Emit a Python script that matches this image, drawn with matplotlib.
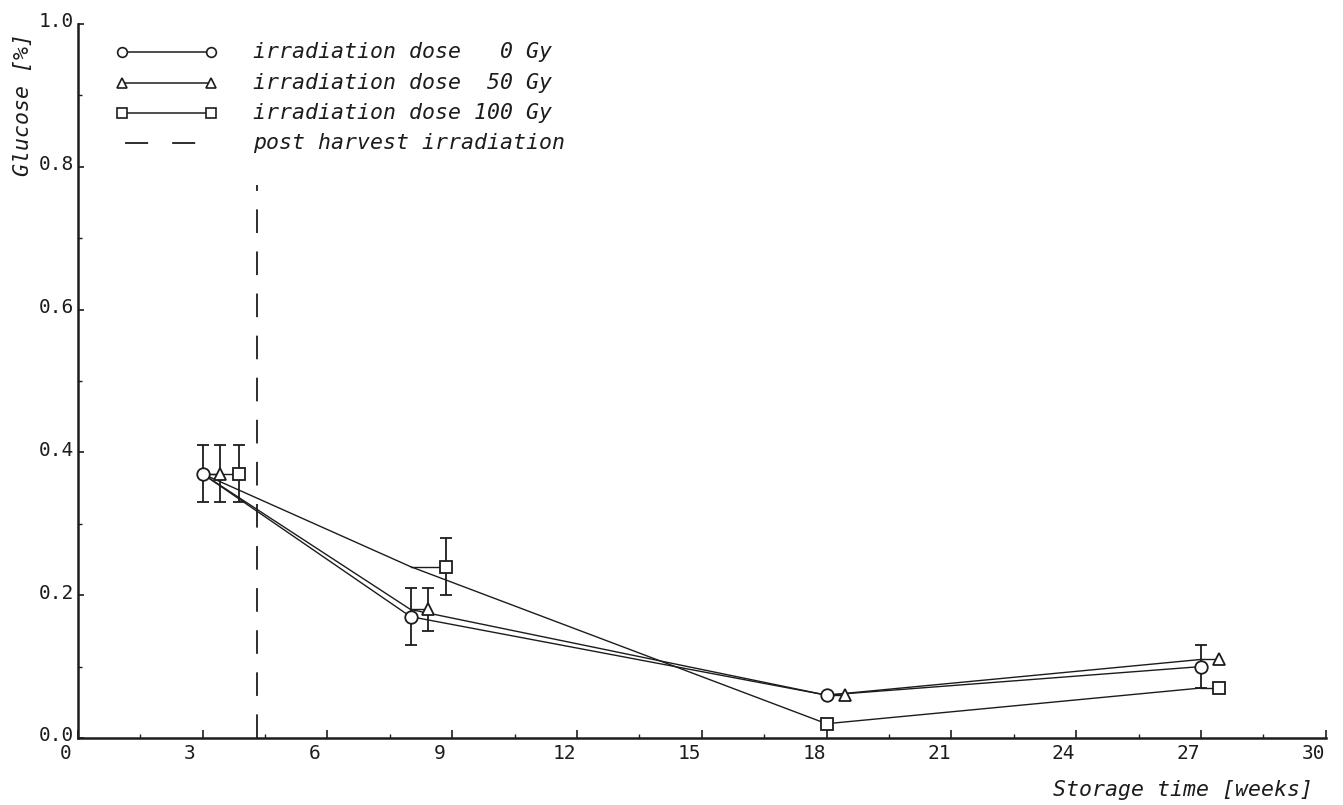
import matplotlib
matplotlib.use("Agg")
import matplotlib.pyplot as plt
from matplotlib.ticker import MultipleLocator
from matplotlib.transforms import ScaledTranslation

# glucose content of stored potatoes, mean and spread per sampling date
weeks = [3.0, 8.0, 18.0, 27.0]
glucose_0gy = [0.37, 0.17, 0.06, 0.10]
glucose_50gy = [0.37, 0.18, 0.06, 0.11]
glucose_100gy = [0.37, 0.24, 0.02, 0.07]
err_0gy = [0.04, 0.04, 0.0, 0.03]
err_50gy = [0.04, 0.03, 0.0, 0.0]
err_100gy = [0.04, 0.04, 0.0, 0.0]
irradiation_week = 4.3

legend_labels = [
    "irradiation dose   0 Gy",
    "irradiation dose  50 Gy",
    "irradiation dose 100 Gy",
    "post harvest irradiation",
]

# symbols are pushed sideways so they do not sit on top of each other
shift_0gy = [0.0, 0.0, 0.0, 0.0]
shift_50gy = [0.43, 0.43, 0.45, 0.43]
shift_100gy = [0.87, 0.85, 0.0, 0.43]

INK = "#1c1c1c"
MONO = "DejaVu Sans Mono"
plt.rcParams["lines.scale_dashes"] = False
plt.rcParams["font.family"] = MONO

fig = plt.figure(figsize=(13.43, 8.05), dpi=100)
ax = fig.add_axes([0.05786, 0.08323, 0.92926, 0.88696])

series = [
    (glucose_0gy, err_0gy, shift_0gy, "o", 9.0),
    (glucose_50gy, err_50gy, shift_50gy, "^", 9.0),
    (glucose_100gy, err_100gy, shift_100gy, "s", 8.5),
]

for values, errs, shifts, marker, ms in series:
    ax.plot(weeks, values, color=INK, lw=1.0, zorder=2)
    xs = [w + s for w, s in zip(weeks, shifts)]
    for w, x, v in zip(weeks, xs, values):
        if x != w:
            ax.plot([w, x], [v, v], color=INK, lw=1.0, zorder=2)
    ex = [x for x, e in zip(xs, errs) if e > 0]
    ey = [v for v, e in zip(values, errs) if e > 0]
    ee = [e for e in errs if e > 0]
    ax.errorbar(ex, ey, yerr=ee, fmt="none", ecolor=INK, elinewidth=1.3,
                capsize=4.2, capthick=1.3, zorder=3)
    ax.plot(xs, values, ls="none", marker=marker, ms=ms, mfc="white",
            mec=INK, mew=1.3, zorder=4)

ax.plot([irradiation_week, irradiation_week], [0, 0.775], color=INK, lw=1.3,
        ls=(0, (17, 13.3)), zorder=1)

# legend drawn by hand at the top left
row_y = [0.9608, 0.9174, 0.8754, 0.8333]
for y, marker, ms in zip(row_y[:3], ["o", "^", "s"], [7.0, 7.0, 6.5]):
    ax.plot([0.0355, 0.1069], [y, y], transform=ax.transAxes, color=INK,
            lw=1.1, marker=marker, ms=ms, mfc="white", mec=INK, mew=1.2,
            clip_on=False)
ax.plot([0.0355, 0.1069], [row_y[3], row_y[3]], transform=ax.transAxes,
        color=INK, lw=1.3, ls=(31.7, (16.6, 17.3)), clip_on=False)
for y, text in zip(row_y, legend_labels):
    ax.text(0.1405, y, text, transform=ax.transAxes, ha="left", va="center",
            fontsize=15.5, style="italic", color=INK, family=MONO)

ax.set_xlim(0, 30)
ax.set_ylim(0, 1.0)
ax.set_xticks(range(0, 31, 3))
ax.xaxis.set_minor_locator(MultipleLocator(1.5))
ax.set_yticks([0.0, 0.2, 0.4, 0.6, 0.8, 1.0])
ax.set_yticklabels(["0.0", "0.2", "0.4", "0.6", "0.8", "1.0"])
ax.yaxis.set_minor_locator(MultipleLocator(0.1))

for side in ["top", "right"]:
    ax.spines[side].set_visible(False)
for side in ["left", "bottom"]:
    ax.spines[side].set_linewidth(1.8)
    ax.spines[side].set_color(INK)

ax.tick_params(axis="x", which="major", direction="in", length=6, width=1.2,
               pad=4, labelsize=14, colors=INK)
ax.tick_params(axis="x", which="minor", direction="in", length=3, width=1.0,
               colors=INK)
ax.tick_params(axis="y", which="major", direction="in", length=4, width=1.2,
               pad=3, labelsize=14, colors=INK)
ax.tick_params(axis="y", which="minor", direction="in", length=3, width=1.0,
               colors=INK)

# plotter-style labels sit a little off their ticks
shift_left = ScaledTranslation(-12.5 / 100, 0, fig.dpi_scale_trans)
shift_up = ScaledTranslation(0, 4 / 100, fig.dpi_scale_trans)
for tick in ax.xaxis.get_major_ticks():
    tick.label1.set_transform(tick.label1.get_transform() + shift_left)
for tick in ax.yaxis.get_major_ticks():
    tick.label1.set_transform(tick.label1.get_transform() + shift_up)

ax.set_xlabel("Storage time [weeks]", fontsize=15.5, style="italic", color=INK)
ax.xaxis.label.set(ha="right", va="center")
ax.xaxis.set_label_coords(0.9898, -0.0728)

ax.set_ylabel("Glucose [%]", fontsize=15.5, style="italic", color=INK)
ax.yaxis.label.set(rotation_mode="default", ha="center", va="top")
ax.yaxis.set_label_coords(-0.0438, 0.987)

fig.savefig("out.png", dpi=100)
